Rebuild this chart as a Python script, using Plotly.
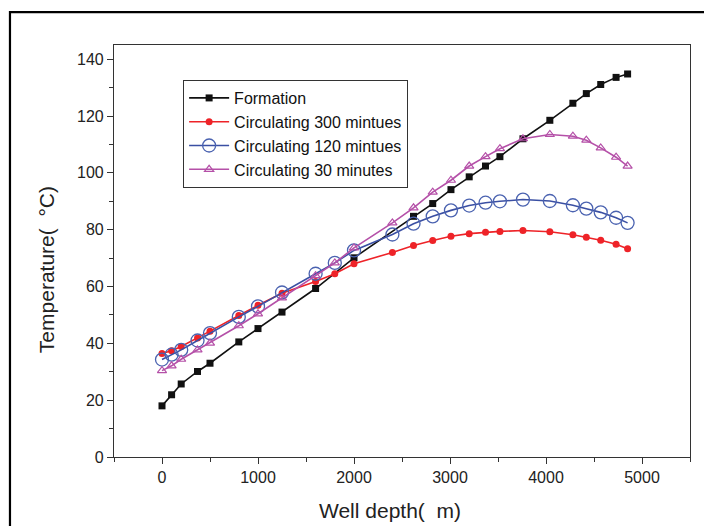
import plotly.graph_objects as go

# Data
depth_formation = [0, 100, 200, 370, 500, 800, 1000, 1250, 1600, 2000, 2620, 2820, 3010,
                   3200, 3370, 3520, 3760, 4040, 4280, 4420, 4570, 4730, 4850]
temp_formation = [18.0, 21.9, 25.7, 30.1, 33.0, 40.5, 45.2, 51.0, 59.3, 70.1, 84.7, 89.2, 94.1,
                  98.6, 102.4, 105.7, 112.0, 118.5, 124.5, 127.9, 131.1, 133.6, 134.8]

depth_circ = [0, 100, 200, 370, 500, 800, 1000, 1250, 1600, 1800, 2000, 2400, 2620, 2820, 3010,
              3200, 3370, 3520, 3760, 4040, 4280, 4420, 4570, 4730, 4850]
temp_300 = [36.4, 37.4, 38.9, 41.9, 44.3, 49.8, 53.4, 57.6, 61.8, 64.5, 68.0, 72.0, 74.4, 76.2, 77.7,
            78.6, 79.1, 79.4, 79.7, 79.3, 78.2, 77.3, 76.3, 74.9, 73.3]
temp_120 = [34.3, 36.0, 37.7, 41.0, 43.6, 49.3, 53.0, 57.9, 64.5, 68.3, 72.7, 78.3, 82.1, 84.7, 86.8,
            88.5, 89.5, 90.0, 90.6, 90.1, 88.6, 87.4, 86.1, 84.2, 82.4]
temp_30 = [30.4, 32.1, 34.4, 37.7, 40.1, 46.2, 50.4, 56.0, 63.8, 68.3, 73.6, 82.4, 87.7, 93.2, 97.4,
           102.4, 105.7, 108.5, 112.0, 113.5, 112.9, 111.5, 108.8, 105.5, 102.4]

names = ["Formation", "Circulating 300 mintues", "Circulating 120 mintues", "Circulating 30 minutes"]
x_title = "Well depth(  m)"
y_title = "Temperature(  °C)"

x_ticks = [0, 1000, 2000, 3000, 4000, 5000]
y_ticks = [0, 20, 40, 60, 80, 100, 120, 140]

FONT = "Liberation Sans, Arial"

fig = go.Figure()
fig.add_trace(go.Scatter(x=depth_formation, y=temp_formation, name=names[0], mode="lines+markers",
                         line=dict(color="#111111", width=1.6),
                         marker=dict(symbol="square", size=7, color="#111111")))
fig.add_trace(go.Scatter(x=depth_circ, y=temp_300, name=names[1], mode="lines+markers",
                         line=dict(color="#ee2328", width=1.6),
                         marker=dict(symbol="circle", size=7, color="#ee2328")))
fig.add_trace(go.Scatter(x=depth_circ, y=temp_120, name=names[2], mode="lines+markers",
                         line=dict(color="#3a4fa3", width=1.6),
                         marker=dict(symbol="circle-open", size=13, color="#4a62b0",
                                     line=dict(width=1.3))))
fig.add_trace(go.Scatter(x=depth_circ, y=temp_30, name=names[3], mode="lines+markers",
                         line=dict(color="#b550a8", width=1.6),
                         marker=dict(symbol="triangle-up-open", size=8, color="#b550a8",
                                     line=dict(width=1.2))))

axis_common = dict(showline=True, linecolor="#333333", linewidth=1.2, mirror=True,
                   ticks="outside", ticklen=6, tickwidth=1.2, tickcolor="#333333",
                   showgrid=False, zeroline=False, automargin=False,
                   tickfont=dict(family=FONT, size=16, color="#222222"))

fig.update_xaxes(range=[-500, 5500], tickvals=x_ticks, ticktext=[str(v) for v in x_ticks],
                 minor=dict(dtick=500, tick0=0, ticks="outside", ticklen=4, tickcolor="#333333"),
                 **axis_common)
fig.update_yaxes(range=[0, 145], tickvals=y_ticks, ticktext=[str(v) for v in y_ticks],
                 minor=dict(dtick=10, tick0=0, ticks="outside", ticklen=4, tickcolor="#333333"),
                 **axis_common)

fig.update_layout(
    width=704, height=518,
    margin=dict(l=106, r=22, t=37, b=69),
    paper_bgcolor="white", plot_bgcolor="white",
    legend=dict(x=0.12, y=0.915, xanchor="left", yanchor="top",
                bordercolor="#333333", borderwidth=1, bgcolor="white",
                font=dict(family=FONT, size=16, color="#111111"),
                tracegroupgap=0, itemwidth=40),
    showlegend=True,
    annotations=[
        dict(text=x_title, xref="paper", yref="paper", x=0.479, y=-0.131,
             xanchor="center", yanchor="middle", showarrow=False,
             font=dict(family=FONT, size=21, color="#222222")),
        dict(text=y_title, xref="paper", yref="paper", x=-0.116, y=0.454,
             xanchor="center", yanchor="middle", showarrow=False, textangle=-90,
             font=dict(family=FONT, size=21, color="#222222")),
    ],
    shapes=[dict(type="rect", xref="paper", yref="paper", x0=-0.1806, x1=1.2, y0=-0.3, y1=1.080,
                 line=dict(color="black", width=2.2), fillcolor="rgba(0,0,0,0)", layer="below")],
)

fig.write_html("out.html")
